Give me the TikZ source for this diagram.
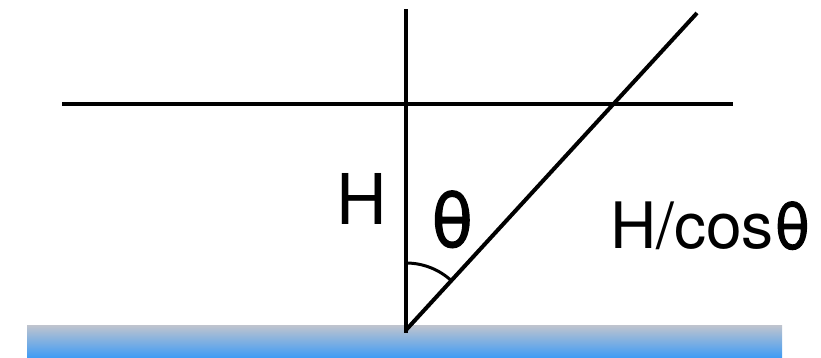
\documentclass[tikz,border=0pt]{standalone}
\usepackage{fontspec}
\setmainfont{TeX Gyre Heros}
\newfontfamily\thetafont{TeX Gyre Heros}[FakeBold=1.6]
\usepackage{tikz}
\usetikzlibrary{calc}

\definecolor{groundtop}{HTML}{BCC3CF}
\definecolor{groundbot}{HTML}{3D9BF5}

\tikzset{
    rayline/.style={line width=4pt, black},
    anglemark/.style={line width=3pt, black},
    biglabel/.style={inner sep=0pt, anchor=base west}
}

\newcommand{\thetasym}{{\thetafont θ}}

\begin{document}
\begin{tikzpicture}[x=1pt, y=1pt]
    \useasboundingbox (0, 0) rectangle (821, 358);

    % Ground surface
    \shade[top color=groundtop, bottom color=groundbot] (27, 0) rectangle (782, 32);

    % Key points
    \coordinate (apex) at (406, 28);
    \coordinate (vtop) at (406, 349);
    \coordinate (vbot) at (406, 25);
    \coordinate (slantend) at (697, 345);
    \coordinate (hleft) at (62, 254);
    \coordinate (hright) at (733, 254);

    % Horizontal level, vertical and slanted ray
    \draw[rayline] (hleft) -- (hright);
    \draw[rayline] (vbot) -- (vtop);
    \draw[rayline] (apex) -- (slantend);

    % Angle between vertical and ray
    \draw[anglemark] ($(apex)+(90:67)$) arc[start angle=90, end angle=47.5, radius=67];

    % Labels
    \node[biglabel, font=\fontsize{70}{70}\selectfont] (labH) at (336, 133) {H};
    \node[biglabel, font=\fontsize{76}{76}\selectfont] (labTheta) at (430, 111) {\thetasym};
    \node[biglabel, font=\fontsize{64}{64}\selectfont] (labSlant) at (610, 109) {H/cos\thetasym};
\end{tikzpicture}
\end{document}
